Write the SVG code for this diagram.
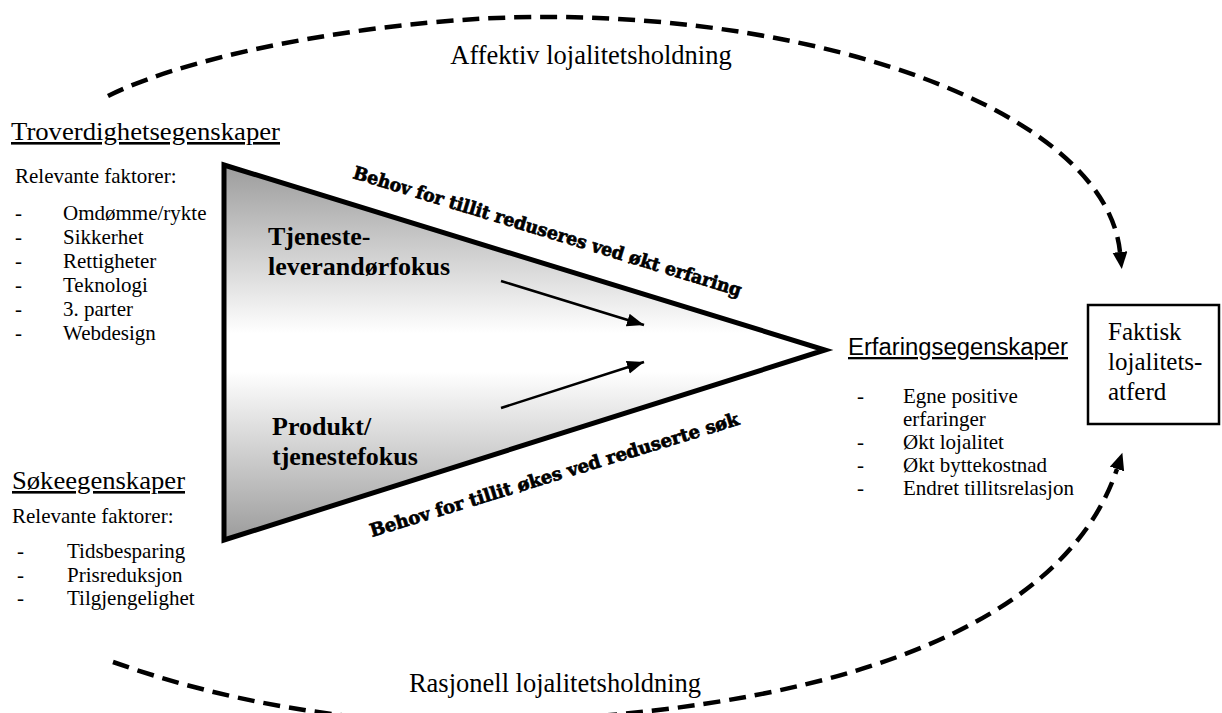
<svg xmlns="http://www.w3.org/2000/svg" width="1222" height="713" viewBox="0 0 1222 713">
<style>
.s{font-family:"Liberation Serif","Times New Roman",serif;fill:#000}
.hd{font-size:26px;text-decoration:underline}
.rf{font-size:21px}
.li{font-size:21px}
.fc{font-size:26px;font-weight:bold}
.sl{font-family:"DejaVu Serif",serif;font-weight:bold;font-size:18px;fill:#000;stroke:#000;stroke-width:0.7}
.arc{fill:none;stroke:#000;stroke-width:4.5;stroke-dasharray:17 9}
.ar{stroke:#000;stroke-width:2.5}
</style>
<defs>
<linearGradient id="g" gradientUnits="userSpaceOnUse" x1="0" y1="165" x2="0" y2="540">
<stop offset="0" stop-color="#9c9c9c"/>
<stop offset="0.45" stop-color="#fff"/>
<stop offset="0.55" stop-color="#fff"/>
<stop offset="1" stop-color="#9c9c9c"/>
</linearGradient>
<marker id="big" markerUnits="userSpaceOnUse" markerWidth="18" markerHeight="16" refX="0" refY="7.5" orient="auto">
<path d="M0,0 L17,7.5 L0,15 z" fill="#000"/>
</marker>
<marker id="sm" markerUnits="userSpaceOnUse" markerWidth="18" markerHeight="14" refX="17" refY="6.5" orient="auto">
<path d="M0,0 L17,6.5 L0,13 z" fill="#000"/>
</marker>
</defs>
<rect width="1222" height="713" fill="#fff"/>

<g id="triangle">
<polygon points="224,165 825,350 224,540" fill="url(#g)" stroke="#000" stroke-width="5" stroke-linejoin="miter"/>
<text class="s fc" x="268" y="245">Tjeneste-</text>
<text class="s fc" x="268" y="275">leverandørfokus</text>
<text class="s fc" x="272" y="435">Produkt/</text>
<text class="s fc" x="272" y="465">tjenestefokus</text>
</g>

<g id="label-top-edge">
<text class="sl" transform="translate(352,178) rotate(17)" textLength="405" lengthAdjust="spacingAndGlyphs">Behov for tillit reduseres ved økt erfaring</text>
</g>
<g id="label-bottom-edge">
<text class="sl" transform="translate(372,537) rotate(-17)" textLength="385" lengthAdjust="spacingAndGlyphs">Behov for tillit økes ved reduserte søk</text>
</g>

<g id="troverdighet">
<text class="s hd" x="11" y="140" textLength="269" lengthAdjust="spacingAndGlyphs">Troverdighetsegenskaper</text>
<text class="s rf" x="15" y="183">Relevante faktorer:</text>
<text class="s li" x="15" y="220">-</text><text class="s li" x="63" y="220">Omdømme/rykte</text>
<text class="s li" x="15" y="244">-</text><text class="s li" x="63" y="244">Sikkerhet</text>
<text class="s li" x="15" y="268">-</text><text class="s li" x="63" y="268">Rettigheter</text>
<text class="s li" x="15" y="292">-</text><text class="s li" x="63" y="292">Teknologi</text>
<text class="s li" x="15" y="316">-</text><text class="s li" x="63" y="316">3. parter</text>
<text class="s li" x="15" y="340">-</text><text class="s li" x="63" y="340">Webdesign</text>
</g>

<g id="soke">
<text class="s hd" x="12" y="489" textLength="173" lengthAdjust="spacingAndGlyphs">Søkeegenskaper</text>
<text class="s rf" x="12" y="523">Relevante faktorer:</text>
<text class="s li" x="17" y="558">-</text><text class="s li" x="67" y="558">Tidsbesparing</text>
<text class="s li" x="17" y="582">-</text><text class="s li" x="67" y="582">Prisreduksjon</text>
<text class="s li" x="17" y="605">-</text><text class="s li" x="67" y="605">Tilgjengelighet</text>
</g>

<g id="erfaring">
<text x="848" y="355" font-family="'Liberation Sans',Arial,sans-serif" font-size="23" text-decoration="underline" textLength="220" lengthAdjust="spacingAndGlyphs">Erfaringsegenskaper</text>
<text class="s li" x="857" y="403">-</text><text class="s li" x="903" y="403">Egne positive</text>
<text class="s li" x="903" y="426">erfaringer</text>
<text class="s li" x="857" y="449">-</text><text class="s li" x="903" y="449">Økt lojalitet</text>
<text class="s li" x="857" y="472">-</text><text class="s li" x="903" y="472">Økt byttekostnad</text>
<text class="s li" x="857" y="495">-</text><text class="s li" x="903" y="495">Endret tillitsrelasjon</text>
</g>

<g id="faktisk">
<rect x="1088" y="305" width="131" height="119" fill="#fff" stroke="#000" stroke-width="2.5"/>
<text class="s" font-size="25" x="1108" y="340">Faktisk</text>
<text class="s" font-size="25" x="1108" y="370">lojalitets-</text>
<text class="s" font-size="25" x="1108" y="400">atferd</text>
</g>

<g id="arc-labels">
<text class="s" font-size="26.5" x="591" y="64" text-anchor="middle">Affektiv lojalitetsholdning</text>
<text class="s" font-size="26.5" x="555" y="692" text-anchor="middle">Rasjonell lojalitetsholdning</text>
</g>

<g id="connectors">
<path class="arc" d="M108,96 C200,50 400,17 540,17 C820,15 1105,110 1120,252" marker-end="url(#big)"/>
<path class="arc" d="M113,662 C220,700 350,725 480,722 C800,715 1060,640 1117,469" marker-end="url(#big)"/>
<line class="ar" x1="501" y1="281" x2="644" y2="325" marker-end="url(#sm)"/>
<line class="ar" x1="501" y1="408" x2="644" y2="362" marker-end="url(#sm)"/>
</g>
</svg>
